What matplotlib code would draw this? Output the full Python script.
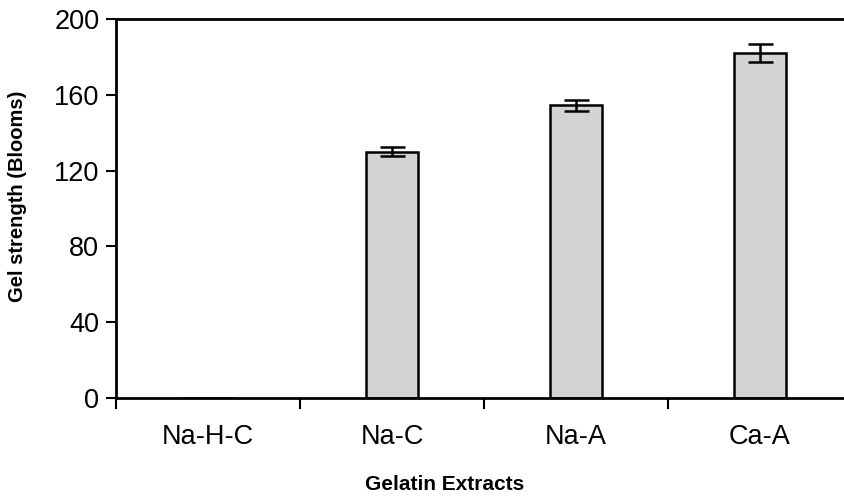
import matplotlib
matplotlib.use("Agg")
import matplotlib.pyplot as plt

categories = ["Na-H-C", "Na-C", "Na-A", "Ca-A"]
gel_strength = [0, 130, 154.5, 182]
errors = [0, 2.2, 3, 4.8]
yticks = [0, 40, 80, 120, 160, 200]

plt.rcParams["font.family"] = ["Liberation Sans", "DejaVu Sans"]

fig = plt.figure(figsize=(8.45, 4.98), dpi=100)
ax = fig.add_axes([116 / 845, 100 / 498, 736 / 845, 379 / 498])

x = list(range(len(categories)))
ax.bar(x, gel_strength, width=0.285, color="#d3d3d3", edgecolor="black", linewidth=1.8,
       zorder=2)
# error bars only where there is a bar
xe = [i for i, e in zip(x, errors) if e > 0]
ye = [v for v, e in zip(gel_strength, errors) if e > 0]
ee = [e for e in errors if e > 0]
ax.errorbar(xe, ye, yerr=ee, fmt="none", ecolor="black", elinewidth=1.8,
            capsize=9, capthick=1.8, zorder=3)

ax.set_xlim(-0.5, 3.5)
ax.set_ylim(0, 200)
ax.set_yticks(yticks)
ax.tick_params(axis="y", labelsize=19.5, length=7, width=1.5, direction="out", pad=5)

# boundary ticks, labels centred on the categories
ax.set_xticks([-0.5, 0.5, 1.5, 2.5])
ax.set_xticklabels([])
ax.set_xticks(x, minor=True)
ax.set_xticklabels(categories, minor=True)
ax.tick_params(axis="x", which="major", length=8, width=1.5, direction="out")
ax.tick_params(axis="x", which="minor", length=0, labelsize=19.5, pad=19)

for side in ["left", "bottom", "top"]:
    ax.spines[side].set_linewidth(2)
ax.spines["right"].set_visible(False)

fig.text(18 / 845, 1 - 196 / 498, "Gel strength (Blooms)", fontsize=14.5,
         fontweight="bold", rotation=90, ha="center", va="center")
fig.text(445 / 845, 1 - 484 / 498, "Gelatin Extracts", fontsize=15,
         fontweight="bold", ha="center", va="center")

fig.savefig("out.png", dpi=100)
